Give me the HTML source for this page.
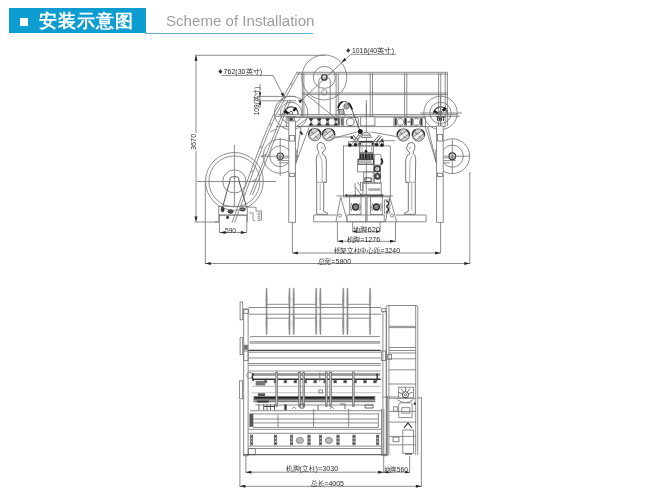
<!DOCTYPE html>
<html><head><meta charset="utf-8">
<style>
html,body{margin:0;padding:0;background:#fff;}
#en,#cn,svg{will-change:transform;}
body{width:656px;height:503px;position:relative;overflow:hidden;font-family:"Liberation Sans",sans-serif;}
#hdr{position:absolute;left:9px;top:8px;width:136.7px;height:25.4px;background:#0e9dd0;}
#sq{position:absolute;left:20px;top:18px;width:8px;height:8px;background:#fff;}
#cn{position:absolute;left:39px;top:7.5px;height:25px;line-height:25px;color:#fff;font-size:18.4px;font-weight:bold;letter-spacing:1.1px;white-space:nowrap;}
#en{position:absolute;left:165.5px;top:11px;color:#9d9d9d;font-size:15.1px;line-height:20px;white-space:nowrap;}
#ul{position:absolute;left:145px;top:32.6px;width:168px;height:1px;background:#62aecb;}
svg{position:absolute;left:0;top:0;}
</style></head><body>
<div id="hdr"></div><div id="sq"></div><div id="cn">安装示意图</div>
<div id="en">Scheme of Installation</div><div id="ul"></div>
<svg width="656" height="503" viewBox="0 0 656 503">
<g fill="none" stroke="#777" stroke-width="0.85">
<line x1="196" y1="56" x2="196" y2="133"/>
<line x1="196" y1="151" x2="196" y2="221"/>
<line x1="195" y1="55.3" x2="325" y2="55.3"/>
<line x1="194.5" y1="222" x2="219" y2="222"/>
<line x1="205.3" y1="183" x2="205.3" y2="264"/>
<line x1="205.3" y1="263.5" x2="469.8" y2="263.5"/>
<line x1="469.8" y1="172" x2="469.8" y2="264"/>
<line x1="292.4" y1="222" x2="292.4" y2="253"/>
<line x1="292.4" y1="253" x2="440.6" y2="253"/>
<line x1="440.6" y1="222" x2="440.6" y2="253"/>
<line x1="337.4" y1="222" x2="337.4" y2="241.3"/>
<line x1="337.4" y1="241.3" x2="395.5" y2="241.3"/>
<line x1="395.5" y1="222" x2="395.5" y2="241.3"/>
<line x1="219.4" y1="215" x2="219.4" y2="232.5"/>
<line x1="246.8" y1="215" x2="246.8" y2="232.5"/>
<line x1="219.4" y1="232.5" x2="246.8" y2="232.5"/>
<path d="M352.7,222 V232 H380.1 V222"/>
<path d="M352.70,231.50 L356.70,230.30 L356.70,232.70Z" fill="#222" stroke="none"/>
<path d="M380.10,231.50 L376.10,232.70 L376.10,230.30Z" fill="#222" stroke="none"/>
<path d="M221.4,75.4 H273 L284.5,98"/>
<path d="M395.8,54.3 H350.8 L302.3,99.4"/>
<line x1="260" y1="84" x2="260" y2="108"/>
<line x1="258" y1="96.4" x2="296" y2="96.4"/>
<line x1="258" y1="100.8" x2="296" y2="100.8"/>
<path d="M196.00,55.30 L197.50,60.80 L194.50,60.80Z" fill="#222" stroke="none"/>
<path d="M196.00,222.00 L194.50,216.50 L197.50,216.50Z" fill="#222" stroke="none"/>
<path d="M205.30,263.50 L210.80,262.00 L210.80,265.00Z" fill="#222" stroke="none"/>
<path d="M469.80,263.50 L464.30,265.00 L464.30,262.00Z" fill="#222" stroke="none"/>
<path d="M292.40,253.00 L297.90,251.50 L297.90,254.50Z" fill="#222" stroke="none"/>
<path d="M440.60,253.00 L435.10,254.50 L435.10,251.50Z" fill="#222" stroke="none"/>
<path d="M337.40,241.30 L342.90,239.80 L342.90,242.80Z" fill="#222" stroke="none"/>
<path d="M395.50,241.30 L390.00,242.80 L390.00,239.80Z" fill="#222" stroke="none"/>
<path d="M220.00,232.50 L225.50,231.00 L225.50,234.00Z" fill="#222" stroke="none"/>
<path d="M246.30,232.50 L240.80,234.00 L240.80,231.00Z" fill="#222" stroke="none"/>
<path d="M284.50,98.00 L280.70,93.75 L283.38,92.41Z" fill="#222" stroke="none"/>
<path d="M303.40,98.40 L300.22,103.13 L298.26,100.86Z" fill="#222" stroke="none"/>
<path d="M341.30,62.70 L344.48,57.97 L346.44,60.24Z" fill="#222" stroke="none"/>
<path d="M260.00,96.40 L258.80,92.40 L261.20,92.40Z" fill="#222" stroke="none"/>
<path d="M260.00,100.80 L261.20,104.80 L258.80,104.80Z" fill="#222" stroke="none"/>
<circle cx="234.4" cy="181.4" r="28.9"/>
<circle cx="234.4" cy="181.4" r="25.5"/>
<circle cx="234.4" cy="181.4" r="11.6"/>
<line x1="234.4" y1="145" x2="234.4" y2="206"/>
<line x1="197" y1="181.5" x2="276" y2="181.5"/>
<path d="M229.8,181 L222.8,206.5 M239,181 L246.4,206.5 M229.8,181 L230.2,178.5 Q230.5,176.8 232.5,176.8 H236.5 Q238.6,176.8 238.8,178.5 L239,181" stroke-width="1.0" stroke="#555"/>
<rect x="218.8" y="206.3" width="28.5" height="8.8"/>
<line x1="218.8" y1="215.1" x2="218.8" y2="222"/>
<line x1="247.3" y1="215.1" x2="247.3" y2="222"/>
<line x1="215" y1="222" x2="219" y2="222"/>
<path d="M248.1,207.2 H256 M256,207.2 V211 H261.5 V220.2 H257 M253,212 V219.5 Q253,221 255,221 M249,213 H252" stroke-width="0.8"/>
<circle cx="259" cy="214" r="1.2" stroke-width="0.7"/>
<circle cx="259" cy="217.5" r="1.2" stroke-width="0.7"/>
<ellipse cx="222.6" cy="209.5" rx="1.6" ry="2.4" fill="#333" stroke="#333" stroke-width="0.5"/>
<ellipse cx="230.5" cy="211.6" rx="2.6" ry="1.6" fill="#555" stroke="#222" stroke-width="0.9"/>
<ellipse cx="242.7" cy="209.4" rx="2.6" ry="1.6" fill="#777" stroke="#222" stroke-width="0.9"/>
<ellipse cx="227.6" cy="217.4" rx="1.4" ry="1.6" fill="#333" stroke="none"/>
<line x1="218.8" y1="215.1" x2="247.3" y2="215.1"/>
<path d="M297,72.3 L273.3,115 L264.6,135 L254.8,160.5 L232,222.7"/>
<path d="M299.6,72.3 L275.90000000000003,115 L267.20000000000005,135 L257.40000000000003,160.5 L234.6,222.7"/>
<line x1="288" y1="100" x2="250" y2="195"/>
<line x1="290.5" y1="100" x2="252.5" y2="195"/>
<line x1="289.9510538641686" y1="85" x2="292.55105386416864" y2="83.5"/>
<line x1="281.6255269320843" y1="100" x2="284.22552693208434" y2="98.5"/>
<line x1="268.95000000000005" y1="125" x2="271.55000000000007" y2="123.5"/>
<line x1="259.60392156862747" y1="148" x2="262.2039215686275" y2="146.5"/>
<line x1="250.58456591639873" y1="172" x2="253.18456591639872" y2="170.5"/>
<line x1="242.15369774919614" y1="195" x2="244.75369774919614" y2="193.5"/>
<line x1="270.27272727272725" y1="132" x2="276.27272727272725" y2="129"/>
<line x1="260.5" y1="157" x2="266.5" y2="154"/>
<line x1="250.72727272727275" y1="182" x2="256.72727272727275" y2="179"/>
<circle cx="280.2" cy="156.2" r="17"/>
<circle cx="280.2" cy="156.2" r="10.5"/>
<circle cx="280.2" cy="156.2" r="3.2" stroke-width="1.2" stroke="#333"/>
<circle cx="280.2" cy="156.2" r="1.3" stroke-width="0.6"/>
<line x1="261" y1="156.2" x2="299" y2="156.2"/>
<line x1="280.2" y1="138" x2="280.2" y2="176"/>
<path d="M277.4,157.9 H289 M277.4,160.5 H289 M279,162.8 H289" stroke-width="0.8"/>
<circle cx="291.1" cy="112.9" r="16.7"/>
<circle cx="291.1" cy="112.9" r="10.7"/>
<path d="M284.1,113.9 A7,7 0 1 1 298.1,113.9" stroke-width="1.4" stroke="#555"/>
<path d="M284.6,111.10000000000001 L288.6,113.5" stroke-width="2.4" stroke="#111"/>
<path d="M293.3,110.9 L296.3,107.7" stroke-width="2.4" stroke="#111"/>
<circle cx="291.1" cy="112.9" r="1.6" stroke-width="0.8" stroke="#333"/>
<path d="M286.6,116.9 h9 M288.1,116.9 v4 M294.1,116.9 v4" stroke-width="0.9" stroke="#333"/>
<rect x="289.6" y="117.4" width="3" height="3.5" stroke-width="0.3" fill="#333"/>
<circle cx="324.3" cy="77.4" r="22.5"/>
<circle cx="324.3" cy="77.4" r="11"/>
<circle cx="324.3" cy="77.4" r="2.7" stroke-width="1.3" stroke="#333"/>
<path d="M318.9,115 V80 Q318.9,77.9 321,77.9 H328.1 Q330.2,77.9 330.2,80 V115"/>
<circle cx="324.3" cy="92.4" r="2.7"/>
<line x1="296.5" y1="72.3" x2="447.4" y2="72.3"/>
<line x1="297" y1="74.1" x2="447.4" y2="74.1"/>
<line x1="302" y1="93" x2="447.4" y2="93"/>
<line x1="302" y1="94.6" x2="447.4" y2="94.6"/>
<line x1="302.3" y1="73" x2="302.3" y2="117"/>
<line x1="303.9" y1="73" x2="303.9" y2="117"/>
<line x1="336.1" y1="73" x2="336.1" y2="117"/>
<line x1="338.3" y1="73" x2="338.3" y2="117"/>
<line x1="370.2" y1="73" x2="370.2" y2="117"/>
<line x1="372.5" y1="73" x2="372.5" y2="117"/>
<line x1="404.6" y1="73" x2="404.6" y2="117"/>
<line x1="406.8" y1="73" x2="406.8" y2="117"/>
<line x1="438.6" y1="73" x2="438.6" y2="126"/>
<line x1="440.8" y1="73" x2="440.8" y2="126"/>
<line x1="445.2" y1="72.5" x2="445.2" y2="126"/>
<line x1="447.4" y1="72.5" x2="447.4" y2="126"/>
<line x1="366.4" y1="104" x2="366.4" y2="117.6"/>
<line x1="276" y1="116.3" x2="460" y2="116.3"/>
<line x1="278" y1="114.6" x2="458" y2="114.6"/>
<rect x="286.2" y="117.6" width="72" height="8.6"/>
<rect x="393.9" y="117.6" width="31.5" height="8.6"/>
<rect x="360.7" y="116.8" width="14.2" height="9"/>
<line x1="374.9" y1="117.6" x2="393.9" y2="117.6" stroke="#aaa"/>
<line x1="276" y1="126.6" x2="446" y2="126.6"/>
<line x1="297" y1="126" x2="307" y2="118.5"/>
<line x1="306" y1="94.3" x2="334.9" y2="117.6"/>
<line x1="343.6" y1="117.6" x2="343.6" y2="126.2"/>
<path d="M313.5,118.6 h3 l1.7,1.7 v3.2 l-1.7,1.7 h-3 l-1.7,-1.7 v-3.2z" stroke-width="0.7" stroke="#555"/>
<path d="M321.9,118.6 h3 l1.7,1.7 v3.2 l-1.7,1.7 h-3 l-1.7,-1.7 v-3.2z" stroke-width="0.7" stroke="#555"/>
<path d="M330.3,118.6 h3 l1.7,1.7 v3.2 l-1.7,1.7 h-3 l-1.7,-1.7 v-3.2z" stroke-width="0.7" stroke="#555"/>
<path d="M308.7,118.2 h4.4 l-2.2,3.2z M308.7,125.6 h4.4 l-2.2,-3.2z" stroke-width="0.3" fill="#2a2a2a" stroke="#2a2a2a"/>
<path d="M317.0,118.2 h4.4 l-2.2,3.2z M317.0,125.6 h4.4 l-2.2,-3.2z" stroke-width="0.3" fill="#2a2a2a" stroke="#2a2a2a"/>
<path d="M325.40000000000003,118.2 h4.4 l-2.2,3.2z M325.40000000000003,125.6 h4.4 l-2.2,-3.2z" stroke-width="0.3" fill="#2a2a2a" stroke="#2a2a2a"/>
<path d="M333.8,118.2 h4.4 l-2.2,3.2z M333.8,125.6 h4.4 l-2.2,-3.2z" stroke-width="0.3" fill="#2a2a2a" stroke="#2a2a2a"/>
<rect x="338" y="118.5" width="1.6" height="6.5" fill="#333"/>
<rect x="341.2" y="118.5" width="1.6" height="6.5" fill="#333"/>
<path d="M398.9,118.6 h3 l1.7,1.7 v3.2 l-1.7,1.7 h-3 l-1.7,-1.7 v-3.2z" stroke-width="0.7" stroke="#555"/>
<path d="M414.9,118.6 h3 l1.7,1.7 v3.2 l-1.7,1.7 h-3 l-1.7,-1.7 v-3.2z" stroke-width="0.7" stroke="#555"/>
<rect x="394.90000000000003" y="118.4" width="1.8" height="6.8" fill="#2a2a2a"/>
<rect x="404.6" y="118.4" width="1.8" height="6.8" fill="#2a2a2a"/>
<rect x="410.90000000000003" y="118.4" width="1.8" height="6.8" fill="#2a2a2a"/>
<rect x="420.40000000000003" y="118.4" width="1.8" height="6.8" fill="#2a2a2a"/>
<line x1="407.4" y1="121.9" x2="410.3" y2="121.9" stroke-width="1.0" stroke="#444"/>
<path d="M348.6,118.2 h3.4 l1.9,1.9 v3.6 l-1.9,1.9 h-3.4 l-1.9,-1.9 v-3.6z" stroke-width="0.8" stroke="#555"/>
<path d="M337.9,111 Q338.5,101.5 344.3,101.3 Q349.5,101.5 351.9,109.5 L360.2,131.6" stroke-width="1.0" stroke="#555"/>
<path d="M338.2,108 Q339,103 342.5,101.8" stroke-width="1.8" stroke="#222"/>
<path d="M348.5,103 Q351,105.5 352.2,109.5" stroke-width="1.8" stroke="#222"/>
<circle cx="346.5" cy="106.3" r="2.7" stroke-width="0.8" stroke="#555" fill="#aaa"/>
<rect x="339.2" y="109.5" width="4.6" height="4.8" stroke-width="0.7" fill="#bbb" stroke="#555"/>
<line x1="343" y1="108" x2="345" y2="116"/>
<circle cx="360.2" cy="131.6" r="2" stroke="#222" fill="#222"/>
<circle cx="440.5" cy="112.9" r="16.7"/>
<circle cx="440.5" cy="112.9" r="10.7"/>
<path d="M433.5,113.9 A7,7 0 1 1 447.5,113.9" stroke-width="1.4" stroke="#555"/>
<path d="M434.0,111.10000000000001 L438.0,113.5" stroke-width="2.4" stroke="#111"/>
<path d="M442.7,110.9 L445.7,107.7" stroke-width="2.4" stroke="#111"/>
<circle cx="440.5" cy="112.9" r="1.6" stroke-width="0.8" stroke="#333"/>
<path d="M436.0,116.9 h9 M437.5,116.9 v4 M443.5,116.9 v4" stroke-width="0.9" stroke="#333"/>
<rect x="439.0" y="117.4" width="3" height="3.5" stroke-width="0.3" fill="#333"/>
<line x1="440.5" y1="95" x2="440.5" y2="131"/>
<line x1="420" y1="113" x2="462" y2="113"/>
<circle cx="452.3" cy="156.2" r="17.4"/>
<circle cx="452.3" cy="156.2" r="11"/>
<circle cx="452.3" cy="156.2" r="3.3" stroke-width="1.2" stroke="#333"/>
<circle cx="452.3" cy="156.2" r="1.3" stroke-width="0.6"/>
<line x1="436" y1="156.2" x2="469.8" y2="156.2"/>
<line x1="452.3" y1="139.5" x2="452.3" y2="173.7"/>
<path d="M443,157.9 H455.6 M443,160.5 H455.6 M443,162.8 H450" stroke-width="0.8"/>
<line x1="425" y1="126.2" x2="436.5" y2="162.8"/>
<line x1="427.5" y1="126.2" x2="436.5" y2="162.8"/>
<line x1="300.9" y1="127.5" x2="295.5" y2="163.9"/>
<line x1="309" y1="127.5" x2="295.5" y2="163.9"/>
<path d="M300.3,131.5 l2.2,3.2" stroke-width="2" stroke="#333"/>
<circle cx="314.75" cy="134.6" r="6.2" stroke-width="0.9" stroke="#666" fill="#d0d0d0"/>
<path d="M309.48,136.46 L318.47,130.26 L320.02,133.35999999999999 L312.27,139.56Z" fill="#f2f2f2"/>
<path d="M311.03,131.5 L314.13,133.98 M315.37,135.84 L317.85,138.32" stroke-width="1.0" stroke="#777"/>
<path d="M308.736,135.22 A6.2,6.2 0 0 1 311.96,129.144" stroke-width="1.4" stroke="#333"/>
<path d="M317.54,129.144 A6.2,6.2 0 0 1 320.764,135.22" stroke-width="1.4" stroke="#333"/>
<circle cx="328.6" cy="134.6" r="6.2" stroke-width="0.9" stroke="#666" fill="#d0d0d0"/>
<path d="M323.33000000000004,136.46 L332.32000000000005,130.26 L333.87,133.35999999999999 L326.12,139.56Z" fill="#f2f2f2"/>
<path d="M324.88,131.5 L327.98,133.98 M329.22,135.84 L331.70000000000005,138.32" stroke-width="1.0" stroke="#777"/>
<path d="M322.586,135.22 A6.2,6.2 0 0 1 325.81,129.144" stroke-width="1.4" stroke="#333"/>
<path d="M331.39000000000004,129.144 A6.2,6.2 0 0 1 334.61400000000003,135.22" stroke-width="1.4" stroke="#333"/>
<circle cx="403.3" cy="135" r="6.2" stroke-width="0.9" stroke="#666" fill="#d0d0d0"/>
<path d="M398.03000000000003,136.86 L407.02000000000004,130.66 L408.57,133.76 L400.82,139.96Z" fill="#f2f2f2"/>
<path d="M399.58,131.9 L402.68,134.38 M403.92,136.24 L406.40000000000003,138.72" stroke-width="1.0" stroke="#777"/>
<path d="M397.286,135.62 A6.2,6.2 0 0 1 400.51,129.544" stroke-width="1.4" stroke="#333"/>
<path d="M406.09000000000003,129.544 A6.2,6.2 0 0 1 409.314,135.62" stroke-width="1.4" stroke="#333"/>
<circle cx="418.4" cy="135" r="6.2" stroke-width="0.9" stroke="#666" fill="#d0d0d0"/>
<path d="M413.13,136.86 L422.12,130.66 L423.66999999999996,133.76 L415.91999999999996,139.96Z" fill="#f2f2f2"/>
<path d="M414.67999999999995,131.9 L417.78,134.38 M419.02,136.24 L421.5,138.72" stroke-width="1.0" stroke="#777"/>
<path d="M412.38599999999997,135.62 A6.2,6.2 0 0 1 415.60999999999996,129.544" stroke-width="1.4" stroke="#333"/>
<path d="M421.19,129.544 A6.2,6.2 0 0 1 424.414,135.62" stroke-width="1.4" stroke="#333"/>
<path d="M317.2,148.3 Q316.5,142.8 320.9,142.5 Q324.7,142.70000000000002 325.0,146.8 L325.7,148.8 L324.9,149.3 Q324.7,151.3 322.7,151.8 L322.2,153.8 Q325.7,155.3 326.3,159.3 L326.3,182.3 L323.7,182.3 L323.7,211.3 L327.7,213.3 L327.7,214.3 L316.7,214.3 L316.7,182.3 L316.3,159.3 Q316.5,154.8 318.7,153.8 L318.7,151.3 Q317.2,150.3 317.2,148.3 Z" stroke-width="0.8" stroke="#555"/>
<path d="M319.7,155.3 Q322.7,159.3 322.2,167.3 L322.2,182.3 M316.7,182.3 H326.3 M320.2,183.3 L320.2,210.3" stroke-width="0.6" stroke="#777"/>
<circle cx="322.2" cy="147.8" r="0.7" stroke-width="0.5"/>
<g transform="translate(823,0) scale(-1,1)">
<path d="M408.2,148.3 Q407.5,142.8 411.9,142.5 Q415.7,142.70000000000002 416.0,146.8 L416.7,148.8 L415.9,149.3 Q415.7,151.3 413.7,151.8 L413.2,153.8 Q416.7,155.3 417.3,159.3 L417.3,182.3 L414.7,182.3 L414.7,211.3 L418.7,213.3 L418.7,214.3 L407.7,214.3 L407.7,182.3 L407.3,159.3 Q407.5,154.8 409.7,153.8 L409.7,151.3 Q408.2,150.3 408.2,148.3 Z" stroke-width="0.8" stroke="#555"/>
<path d="M410.7,155.3 Q413.7,159.3 413.2,167.3 L413.2,182.3 M407.7,182.3 H417.3 M411.2,183.3 L411.2,210.3" stroke-width="0.6" stroke="#777"/>
<circle cx="413.2" cy="147.8" r="0.7" stroke-width="0.5"/>
</g>
<rect x="288.8" y="121" width="6.6" height="101.3" fill="#fff"/>
<rect x="289.6" y="135.5" width="5" height="5.5"/>
<rect x="289.6" y="173.2" width="5" height="3.3"/>
<rect x="436.6" y="126" width="6.6" height="96.3" fill="#fff"/>
<rect x="437.4" y="134.4" width="5" height="6.6"/>
<rect x="437.4" y="173.2" width="5" height="3.3"/>
<line x1="313.7" y1="215" x2="336.6" y2="215"/>
<line x1="396" y1="215" x2="426.1" y2="215"/>
<line x1="313.7" y1="215" x2="313.7" y2="221.8"/>
<line x1="426.1" y1="215" x2="426.1" y2="221.8"/>
<rect x="343.4" y="145.9" width="46.9" height="51"/>
<line x1="366.3" y1="100" x2="366.3" y2="222"/>
<path d="M361.4,137.5 L363.2,133 Q366.3,131.4 369.4,133 L371.2,137.5 Z" stroke-width="0.9" fill="#e6e6e6"/>
<line x1="362.5" y1="135.2" x2="370.1" y2="135.2"/>
<rect x="348.4" y="141.7" width="35.2" height="4.2" stroke-width="0.9"/>
<line x1="359.3" y1="141.6" x2="373.5" y2="141.6" stroke-width="1.4" stroke="#333"/>
<circle cx="360.3" cy="131.7" r="2.1" stroke-width="0.5" stroke="#1a1a1a" fill="#1a1a1a"/>
<circle cx="350" cy="145" r="1.5" stroke-width="0.5" stroke="#1a1a1a" fill="#1a1a1a"/>
<circle cx="355.5" cy="144.6" r="1.5" stroke-width="0.5" stroke="#1a1a1a" fill="#1a1a1a"/>
<circle cx="359.7" cy="143.8" r="1.3" stroke-width="0.5" stroke="#1a1a1a" fill="#1a1a1a"/>
<circle cx="373.1" cy="143.8" r="1.3" stroke-width="0.5" stroke="#1a1a1a" fill="#1a1a1a"/>
<circle cx="376.5" cy="144.6" r="1.5" stroke-width="0.5" stroke="#1a1a1a" fill="#1a1a1a"/>
<circle cx="381.9" cy="145" r="1.5" stroke-width="0.5" stroke="#1a1a1a" fill="#1a1a1a"/>
<circle cx="351.8" cy="137.5" r="1.2" stroke-width="0.5" stroke="#1a1a1a" fill="#1a1a1a"/>
<circle cx="382.2" cy="140.7" r="1.2" stroke-width="0.5" stroke="#1a1a1a" fill="#1a1a1a"/>
<path d="M350.9,136.3 L355.9,141.6 M353,135 L358.5,141" stroke-width="0.9" stroke="#444"/>
<path d="M352.5,143.5 L360,132.5 M355,144 L361.8,134" stroke-width="0.8" stroke="#555"/>
<line x1="354.375" y1="140.75" x2="356.875" y2="141.55"/>
<line x1="356.25" y1="138.0" x2="358.75" y2="138.8"/>
<line x1="358.125" y1="135.25" x2="360.625" y2="136.05"/>
<path d="M381.5,136.3 L376.5,141.6 M379.5,135 L374,141" stroke-width="0.9" stroke="#444"/>
<path d="M376,144 L381,136.6 M378.5,144.5 L383,138" stroke-width="0.8" stroke="#555"/>
<line x1="382" y1="140.7" x2="395" y2="140.7"/>
<line x1="335" y1="137" x2="351.8" y2="137"/>
<line x1="332.1" y1="138.6" x2="357.3" y2="131.9"/>
<line x1="399.2" y1="137" x2="370.6" y2="131.9"/>
<rect x="359.3" y="142.5" width="14.2" height="10.1"/>
<line x1="360.1" y1="142.5" x2="360.1" y2="152.6" stroke-width="0.6" stroke="#888"/>
<line x1="362.2" y1="142.5" x2="362.2" y2="152.6" stroke-width="0.6" stroke="#888"/>
<line x1="371.4" y1="142.5" x2="371.4" y2="152.6" stroke-width="0.6" stroke="#888"/>
<line x1="373.1" y1="142.5" x2="373.1" y2="152.6" stroke-width="0.6" stroke="#888"/>
<circle cx="366" cy="151.3" r="1.2" stroke-width="0.3" stroke="#222" fill="#222"/>
<rect x="359.3" y="153.4" width="14.2" height="5.9" stroke-width="0.5" fill="#2a2a2a"/>
<line x1="361.8" y1="153.8" x2="361.8" y2="159" stroke-width="0.6" stroke="#ccc"/>
<line x1="364.5" y1="153.8" x2="364.5" y2="159" stroke-width="0.6" stroke="#ccc"/>
<line x1="368" y1="153.8" x2="368" y2="159" stroke-width="0.6" stroke="#ccc"/>
<line x1="370.8" y1="153.8" x2="370.8" y2="159" stroke-width="0.6" stroke="#ccc"/>
<rect x="358" y="159.3" width="15.5" height="5" stroke-width="1.0" stroke="#333"/>
<rect x="359.5" y="160.5" width="12" height="2.5" stroke-width="0.3" fill="#bbb"/>
<path d="M374.4,154.3 H379 Q381.1,154.3 381.1,156.5 V165.2 H374.4 Z"/>
<path d="M381.2,158.5 q2.3,3 0,6" stroke-width="1.8" stroke="#222"/>
<rect x="357.6" y="164.3" width="15.9" height="7.6"/>
<rect x="374.4" y="165.2" width="6" height="17.8"/>
<circle cx="377.3" cy="169" r="2.8" stroke-width="1.4" stroke="#333"/>
<circle cx="377.3" cy="169" r="1" stroke-width="0.6"/>
<circle cx="377.6" cy="176.3" r="2.8" stroke-width="1.2" stroke="#333" fill="#666"/>
<circle cx="377.6" cy="176.3" r="1.1" stroke-width="0.3" fill="#fff"/>
<rect x="363.7" y="171.9" width="9.5" height="11.1"/>
<rect x="364.9" y="177.9" width="6.3" height="3.6" stroke-width="1.0" stroke="#444"/>
<rect x="362.9" y="183" width="18.3" height="12"/>
<rect x="368.8" y="188.6" width="11.2" height="2" stroke-width="0.3" fill="#aaa"/>
<path d="M355.3,187 L360.9,194.2 M355,183 L355.3,194 M357,182 L360.5,186"/>
<rect x="360.5" y="182.3" width="2.4" height="7.9"/>
<line x1="345" y1="195.5" x2="382.4" y2="195.5" stroke-width="1.3" stroke="#333"/>
<circle cx="346.5" cy="195.5" r="1" stroke-width="0.3" stroke="#222" fill="#222"/>
<circle cx="355.3" cy="195.5" r="1" stroke-width="0.3" stroke="#222" fill="#222"/>
<circle cx="360.9" cy="195.5" r="1" stroke-width="0.3" stroke="#222" fill="#222"/>
<circle cx="382.4" cy="195.5" r="1" stroke-width="0.3" stroke="#222" fill="#222"/>
<line x1="336.4" y1="195.9" x2="393" y2="195.9"/>
<path d="M335.9,222 L340.7,196.9 L347.6,222"/>
<circle cx="340.1" cy="215.6" r="1.5"/>
<rect x="349.7" y="196.4" width="11.3" height="18.1"/>
<rect x="370.6" y="196.4" width="11.7" height="18.1"/>
<circle cx="355.6" cy="207" r="3" stroke-width="1.4" stroke="#333" fill="#888"/>
<circle cx="376.4" cy="207" r="3" stroke-width="1.4" stroke="#333" fill="#888"/>
<path d="M351.5,203 q-1.5,4 0,8 M359.5,203 q1.5,4 0,8 M372.5,203 q-1.5,4 0,8 M380.5,203 q1.5,4 0,8"/>
<rect x="365.2" y="196" width="2.2" height="26" stroke-width="0.3" fill="#aaa"/>
<path d="M385.5,222 L389.8,196.9 L396.7,222"/>
<circle cx="391.9" cy="215.6" r="1.5"/>
<rect x="384.4" y="200" width="5.4" height="13"/>
<path d="M386,201 a2.5,2.5 0 0 1 0,5 M386,207 a2.5,2.5 0 0 1 0,5" stroke-width="1.2" stroke="#333"/>
<rect x="347" y="215" width="37.2" height="6.8"/>
<line x1="313.7" y1="221.8" x2="426.1" y2="221.8"/>
</g>
<g font-family="'Liberation Sans', sans-serif">
<path d="M220.4,69.1 L222.4,71.6 L220.4,74.1 L218.4,71.6Z" fill="#333" stroke="none"/>
<text x="223.6" y="74" font-size="6.9" textLength="38.6" lengthAdjust="spacingAndGlyphs" fill="#2a2a2a">762(30英寸)</text>
<path d="M348.2,48.2 L350.15,50.5 L348.2,52.8 L346.25,50.5Z" fill="#333" stroke="none"/>
<text x="351.9" y="52.7" font-size="6.6" textLength="42.2" lengthAdjust="spacingAndGlyphs" fill="#2a2a2a">1016(40英寸)</text>
<text transform="translate(258.6,115.3) rotate(-90)" x="0" y="0" font-size="6.9" textLength="28.6" lengthAdjust="spacingAndGlyphs" fill="#2a2a2a">109(英寸)</text>
<text transform="translate(196.4,150.1) rotate(-90)" x="0" y="0" font-size="7.6" textLength="16.4" lengthAdjust="spacingAndGlyphs" fill="#2a2a2a">3670</text>
<text x="225.1" y="232.6" font-size="7.4" textLength="10.8" lengthAdjust="spacingAndGlyphs" fill="#2a2a2a">590</text>
<text x="352.7" y="232" font-size="7.2" textLength="27.4" lengthAdjust="spacingAndGlyphs" fill="#2a2a2a">地脚620</text>
<text x="346.6" y="241.9" font-size="7.2" textLength="33.5" lengthAdjust="spacingAndGlyphs" fill="#2a2a2a">机脚=1276</text>
<text x="333.6" y="253.4" font-size="7.2" textLength="66.4" lengthAdjust="spacingAndGlyphs" fill="#2a2a2a">框架立柱中心距=3240</text>
<text x="317.6" y="264" font-size="7.2" textLength="33.6" lengthAdjust="spacingAndGlyphs" fill="#2a2a2a">总宽=5800</text>
</g>
<g fill="none" stroke="#777" stroke-width="0.85">
<path d="M266.20000000000005,288.2 Q265.40000000000003,299.775 266.20000000000005,311.35 Q265.40000000000003,322.925 266.20000000000005,334.5 L267.0,334.5 Q267.6,322.925 267.0,311.35 Q267.6,299.775 267.0,288.2 Z" stroke-width="0.4" fill="#999" stroke="#666"/>
<path d="M289.1,288.2 Q288.3,299.775 289.1,311.35 Q288.3,322.925 289.1,334.5 L289.9,334.5 Q290.5,322.925 289.9,311.35 Q290.5,299.775 289.9,288.2 Z" stroke-width="0.4" fill="#999" stroke="#666"/>
<path d="M293.3,288.2 Q292.5,299.775 293.3,311.35 Q292.5,322.925 293.3,334.5 L294.09999999999997,334.5 Q294.7,322.925 294.09999999999997,311.35 Q294.7,299.775 294.09999999999997,288.2 Z" stroke-width="0.4" fill="#999" stroke="#666"/>
<path d="M315.8,288.2 Q315.0,299.775 315.8,311.35 Q315.0,322.925 315.8,334.5 L316.59999999999997,334.5 Q317.2,322.925 316.59999999999997,311.35 Q317.2,299.775 316.59999999999997,288.2 Z" stroke-width="0.4" fill="#999" stroke="#666"/>
<path d="M320.0,288.2 Q319.2,299.775 320.0,311.35 Q319.2,322.925 320.0,334.5 L320.79999999999995,334.5 Q321.4,322.925 320.79999999999995,311.35 Q321.4,299.775 320.79999999999995,288.2 Z" stroke-width="0.4" fill="#999" stroke="#666"/>
<path d="M342.90000000000003,288.2 Q342.1,299.775 342.90000000000003,311.35 Q342.1,322.925 342.90000000000003,334.5 L343.7,334.5 Q344.3,322.925 343.7,311.35 Q344.3,299.775 343.7,288.2 Z" stroke-width="0.4" fill="#999" stroke="#666"/>
<path d="M347.1,288.2 Q346.3,299.775 347.1,311.35 Q346.3,322.925 347.1,334.5 L347.9,334.5 Q348.5,322.925 347.9,311.35 Q348.5,299.775 347.9,288.2 Z" stroke-width="0.4" fill="#999" stroke="#666"/>
<path d="M369.70000000000005,288.2 Q368.90000000000003,299.775 369.70000000000005,311.35 Q368.90000000000003,322.925 369.70000000000005,334.5 L370.5,334.5 Q371.1,322.925 370.5,311.35 Q371.1,299.775 370.5,288.2 Z" stroke-width="0.4" fill="#999" stroke="#666"/>
<line x1="248.7" y1="307.5" x2="381.1" y2="307.5"/>
<line x1="248.7" y1="314.2" x2="381.1" y2="314.2"/>
<line x1="266.6" y1="304.3" x2="289.5" y2="304.3"/>
<line x1="266.6" y1="318.2" x2="289.5" y2="318.2"/>
<line x1="293.7" y1="304.3" x2="316.2" y2="304.3"/>
<line x1="293.7" y1="318.2" x2="316.2" y2="318.2"/>
<line x1="320.4" y1="304.3" x2="343.3" y2="304.3"/>
<line x1="320.4" y1="318.2" x2="343.3" y2="318.2"/>
<line x1="347.5" y1="304.3" x2="370.1" y2="304.3"/>
<line x1="347.5" y1="318.2" x2="370.1" y2="318.2"/>
<rect x="240.1" y="302" width="2.6" height="17.8"/>
<rect x="240.1" y="337.7" width="2.6" height="17"/>
<rect x="239.6" y="380.8" width="3" height="18"/>
<rect x="243.7" y="309.3" width="4.4" height="146.5"/>
<rect x="243.7" y="309" width="5" height="4.3"/>
<rect x="243.9" y="345" width="4" height="4.8" stroke-width="0.4" fill="#777"/>
<rect x="243.7" y="351" width="4.4" height="9.5"/>
<circle cx="249.7" cy="375.4" r="3"/>
<rect x="381.7" y="308.7" width="4.2" height="3"/>
<rect x="382.9" y="311.7" width="3.6" height="144"/>
<rect x="381.4" y="351" width="4.2" height="9.5"/>
<rect x="387.3" y="354.5" width="4.2" height="4.8"/>
<path d="M386.2,455 V307 Q386.2,305.5 388,305.5 H416 Q417.8,305.5 417.8,307 V455"/>
<line x1="388.9" y1="305.5" x2="388.9" y2="455"/>
<line x1="415.7" y1="305.5" x2="415.7" y2="455"/>
<line x1="388.9" y1="326.3" x2="415.7" y2="326.3"/>
<line x1="388.9" y1="327.6" x2="415.7" y2="327.6"/>
<line x1="388.9" y1="347.5" x2="415.7" y2="347.5"/>
<line x1="388.9" y1="350.5" x2="415.7" y2="350.5"/>
<line x1="388.9" y1="353" x2="416.2" y2="353"/>
<line x1="388.9" y1="358.8" x2="416.2" y2="358.8"/>
<line x1="388.9" y1="369.8" x2="416.2" y2="369.8"/>
<line x1="388.9" y1="384" x2="416.2" y2="384"/>
<line x1="388.9" y1="398.3" x2="416.2" y2="398.3"/>
<line x1="388.9" y1="411.4" x2="416.2" y2="411.4"/>
<line x1="388.9" y1="422.1" x2="416.2" y2="422.1"/>
<line x1="388.9" y1="436.4" x2="416.2" y2="436.4"/>
<line x1="388.9" y1="444.8" x2="416.2" y2="444.8"/>
<line x1="250" y1="336.6" x2="379.9" y2="336.6"/>
<rect x="250" y="341.2" width="129.9" height="2.2" stroke-width="0.4" fill="#bbb"/>
<line x1="248.5" y1="350.4" x2="380.8" y2="350.4" stroke-width="1.1" stroke="#444"/>
<line x1="248.5" y1="352.2" x2="380.8" y2="352.2"/>
<line x1="248.5" y1="358" x2="380.8" y2="358"/>
<line x1="248.5" y1="363.5" x2="380.8" y2="363.5"/>
<line x1="248.5" y1="365.3" x2="380.8" y2="365.3"/>
<line x1="248.5" y1="371" x2="380.8" y2="371" stroke="#888"/>
<rect x="252" y="373.4" width="128" height="2.2" stroke-width="0.4" fill="#999"/>
<line x1="252" y1="379.3" x2="380.8" y2="379.3" stroke-width="1.4" stroke="#333"/>
<rect x="264.2" y="380.6" width="2.6" height="2.2" fill="#222"/>
<rect x="274.15" y="380.6" width="2.6" height="2.2" fill="#222"/>
<rect x="284.09999999999997" y="380.6" width="2.6" height="2.2" fill="#222"/>
<rect x="294.05" y="380.6" width="2.6" height="2.2" fill="#222"/>
<rect x="304.0" y="380.6" width="2.6" height="2.2" fill="#222"/>
<rect x="313.95" y="380.6" width="2.6" height="2.2" fill="#222"/>
<rect x="323.9" y="380.6" width="2.6" height="2.2" fill="#222"/>
<rect x="333.84999999999997" y="380.6" width="2.6" height="2.2" fill="#222"/>
<rect x="343.8" y="380.6" width="2.6" height="2.2" fill="#222"/>
<rect x="353.75" y="380.6" width="2.6" height="2.2" fill="#222"/>
<rect x="363.7" y="380.6" width="2.6" height="2.2" fill="#222"/>
<rect x="373.65" y="380.6" width="2.6" height="2.2" fill="#222"/>
<rect x="255.9" y="381" width="9.1" height="4.3" stroke-width="0.4" fill="#777"/>
<line x1="252" y1="386.3" x2="380.8" y2="386.3" stroke="#aaa"/>
<line x1="252" y1="392.7" x2="380.8" y2="392.7" stroke="#bbb"/>
<rect x="258" y="393.3" width="7" height="2.7" stroke-width="0.3" fill="#555"/>
<rect x="254" y="396.5" width="120.8" height="2.7" fill="#222"/>
<rect x="254" y="399.2" width="120.8" height="2.6" fill="#666"/>
<line x1="254" y1="400.5" x2="374.8" y2="400.5" stroke-width="0.5" stroke="#ddd"/>
<path d="M258,400.4 h10 a1.1,1.1 0 0 1 0,2.2 h-10 a1.1,1.1 0 0 1 0,-2.2z" stroke-width="0.4" fill="#333"/>
<path d="M253.5,373.5 q-2.2,3.5 0,7.5" stroke-width="1.5" stroke="#333"/>
<path d="M376.6,373.6 q1.8,3.6 0,7.2" stroke-width="1.4" stroke="#333"/>
<rect x="275.8" y="372" width="1.6" height="34.6" stroke-width="0.7" fill="#ccc" stroke="#666"/>
<rect x="298.7" y="372" width="1.6" height="34.6" stroke-width="0.7" fill="#ccc" stroke="#666"/>
<rect x="302.9" y="372" width="1.6" height="34.6" stroke-width="0.7" fill="#ccc" stroke="#666"/>
<rect x="325.59999999999997" y="372" width="1.6" height="34.6" stroke-width="0.7" fill="#ccc" stroke="#666"/>
<rect x="329.8" y="372" width="1.6" height="34.6" stroke-width="0.7" fill="#ccc" stroke="#666"/>
<rect x="352.59999999999997" y="372" width="1.6" height="34.6" stroke-width="0.7" fill="#ccc" stroke="#666"/>
<line x1="319.8" y1="372.4" x2="319.8" y2="382"/>
<rect x="319" y="390" width="3.5" height="3"/>
<path d="M259,404 v6 M263.7,404 v6.2 M267,404 v6.2 M270.5,404 v6.2 M274.5,404 v6.2 M300,404 h4 v4 h-4z M318,405 v5 M340,404 h5 v5 M365,405 h8 v3 h-8z" stroke-width="0.9" stroke="#555"/>
<line x1="263.7" y1="406.5" x2="275" y2="406.5" stroke-width="1.0" stroke="#444"/>
<rect x="284.5" y="404.5" width="2" height="5.5" fill="#333"/>
<path d="M292,409 q2,-4 4,0 M330,409 q2,-4 4,0" stroke-width="0.8"/>
<line x1="255.4" y1="405" x2="373.8" y2="405"/>
<line x1="250" y1="410.7" x2="381.5" y2="410.7"/>
<rect x="249.6" y="413.8" width="3.5" height="13" stroke-width="0.4" fill="#555"/>
<line x1="253" y1="413.9" x2="378.4" y2="413.9" stroke="#777"/>
<line x1="253" y1="419" x2="378.4" y2="419" stroke="#777"/>
<line x1="253" y1="422.9" x2="378.4" y2="422.9" stroke="#777"/>
<line x1="253" y1="427.4" x2="378.4" y2="427.4" stroke="#777"/>
<line x1="278" y1="414.4" x2="278" y2="427"/>
<line x1="313.6" y1="409" x2="313.6" y2="427.4"/>
<line x1="348.7" y1="409" x2="348.7" y2="427.4"/>
<line x1="378.4" y1="413" x2="378.4" y2="427.4"/>
<line x1="248.5" y1="429.3" x2="381.5" y2="429.3"/>
<line x1="248.5" y1="433.3" x2="381.5" y2="433.3"/>
<line x1="250.6" y1="434.5" x2="250.6" y2="445.5" stroke="#666"/>
<line x1="252.4" y1="434.5" x2="252.4" y2="445.5" stroke="#666"/>
<rect x="250.4" y="435.7" width="2.2" height="1.6" fill="#333"/>
<rect x="250.4" y="439.2" width="2.2" height="1.6" fill="#333"/>
<rect x="250.4" y="442.7" width="2.2" height="1.6" fill="#333"/>
<line x1="274.5" y1="434.5" x2="274.5" y2="445.5" stroke="#666"/>
<line x1="276.29999999999995" y1="434.5" x2="276.29999999999995" y2="445.5" stroke="#666"/>
<rect x="274.29999999999995" y="435.7" width="2.2" height="1.6" fill="#333"/>
<rect x="274.29999999999995" y="439.2" width="2.2" height="1.6" fill="#333"/>
<rect x="274.29999999999995" y="442.7" width="2.2" height="1.6" fill="#333"/>
<line x1="290.6" y1="434.5" x2="290.6" y2="445.5" stroke="#666"/>
<line x1="292.4" y1="434.5" x2="292.4" y2="445.5" stroke="#666"/>
<rect x="290.4" y="435.7" width="2.2" height="1.6" fill="#333"/>
<rect x="290.4" y="439.2" width="2.2" height="1.6" fill="#333"/>
<rect x="290.4" y="442.7" width="2.2" height="1.6" fill="#333"/>
<line x1="308.1" y1="434.5" x2="308.1" y2="445.5" stroke="#666"/>
<line x1="309.9" y1="434.5" x2="309.9" y2="445.5" stroke="#666"/>
<rect x="307.9" y="435.7" width="2.2" height="1.6" fill="#333"/>
<rect x="307.9" y="439.2" width="2.2" height="1.6" fill="#333"/>
<rect x="307.9" y="442.7" width="2.2" height="1.6" fill="#333"/>
<line x1="319.6" y1="434.5" x2="319.6" y2="445.5" stroke="#666"/>
<line x1="321.4" y1="434.5" x2="321.4" y2="445.5" stroke="#666"/>
<rect x="319.4" y="435.7" width="2.2" height="1.6" fill="#333"/>
<rect x="319.4" y="439.2" width="2.2" height="1.6" fill="#333"/>
<rect x="319.4" y="442.7" width="2.2" height="1.6" fill="#333"/>
<line x1="337.1" y1="434.5" x2="337.1" y2="445.5" stroke="#666"/>
<line x1="338.9" y1="434.5" x2="338.9" y2="445.5" stroke="#666"/>
<rect x="336.9" y="435.7" width="2.2" height="1.6" fill="#333"/>
<rect x="336.9" y="439.2" width="2.2" height="1.6" fill="#333"/>
<rect x="336.9" y="442.7" width="2.2" height="1.6" fill="#333"/>
<line x1="353.1" y1="434.5" x2="353.1" y2="445.5" stroke="#666"/>
<line x1="354.9" y1="434.5" x2="354.9" y2="445.5" stroke="#666"/>
<rect x="352.9" y="435.7" width="2.2" height="1.6" fill="#333"/>
<rect x="352.9" y="439.2" width="2.2" height="1.6" fill="#333"/>
<rect x="352.9" y="442.7" width="2.2" height="1.6" fill="#333"/>
<line x1="376.70000000000005" y1="434.5" x2="376.70000000000005" y2="445.5" stroke="#666"/>
<line x1="378.5" y1="434.5" x2="378.5" y2="445.5" stroke="#666"/>
<rect x="376.5" y="435.7" width="2.2" height="1.6" fill="#333"/>
<rect x="376.5" y="439.2" width="2.2" height="1.6" fill="#333"/>
<rect x="376.5" y="442.7" width="2.2" height="1.6" fill="#333"/>
<ellipse cx="299.9" cy="440.4" rx="3.6" ry="3" fill="#bbb" stroke="#777"/>
<ellipse cx="328.9" cy="440.4" rx="3.6" ry="3" fill="#bbb" stroke="#777"/>
<line x1="248.5" y1="446.1" x2="381.5" y2="446.1"/>
<line x1="248.5" y1="448.5" x2="381.5" y2="448.5"/>
<rect x="248.3" y="448.7" width="7" height="6"/>
<line x1="243.7" y1="454.7" x2="386.2" y2="454.7" stroke-width="1.0" stroke="#444"/>
<line x1="381.5" y1="409" x2="381.5" y2="456"/>
<line x1="383.8" y1="409" x2="383.8" y2="456"/>
<line x1="387.6" y1="396" x2="387.6" y2="456"/>
<rect x="398.7" y="387.2" width="14.7" height="10.7"/>
<line x1="402.1110758272493" y1="393.6029294983602" x2="398.3523053441057" y2="392.2348489250575" stroke-width="0.8" stroke="#555"/>
<line x1="403.3924824727713" y1="391.9329678449885" x2="401.0981767273671" y2="388.6563596678326" stroke-width="0.8" stroke="#555"/>
<line x1="405.4" y1="391.3" x2="405.4" y2="387.3" stroke-width="0.8" stroke="#555"/>
<line x1="407.40751752722866" y1="391.9329678449885" x2="409.70182327263285" y2="388.6563596678326" stroke-width="0.8" stroke="#555"/>
<line x1="408.68892417275066" y1="393.6029294983602" x2="412.4476946558943" y2="392.2348489250575" stroke-width="0.8" stroke="#555"/>
<circle cx="405.4" cy="394.8" r="3.1" stroke-width="1.0" stroke="#444"/>
<circle cx="405.4" cy="394.8" r="1.2" stroke-width="0.7" stroke="#444"/>
<path d="M397.3,399.7 Q405.4,405.5 413.4,399.7" stroke-width="0.9"/>
<path d="M398.7,417.6 V405 Q398.7,402.8 401,402.8 H409.8 Q412.1,402.8 412.1,405 V417.6 Z"/>
<rect x="401.8" y="407.7" width="8" height="5.4"/>
<rect x="413.9" y="402.8" width="1.8" height="2.2" stroke-width="0.3" fill="#222"/>
<line x1="383" y1="397" x2="399" y2="397"/>
<line x1="417" y1="397.9" x2="421.9" y2="397.9"/>
<rect x="393.7" y="406.8" width="3.6" height="4.5"/>
<rect x="402.8" y="430" width="10.7" height="23.3"/>
<path d="M404,428 L408,423 L412,428 M405,454 h7" stroke-width="1.2" stroke="#333"/>
<rect x="393" y="437.2" width="6" height="4.5"/>
<line x1="245.9" y1="456" x2="245.9" y2="473"/>
<line x1="383.7" y1="456" x2="383.7" y2="473"/>
<line x1="409.7" y1="456" x2="409.7" y2="473"/>
<line x1="239.9" y1="400" x2="239.9" y2="487"/>
<line x1="421.4" y1="397" x2="421.4" y2="487"/>
<line x1="245.9" y1="472.2" x2="383.7" y2="472.2"/>
<line x1="383.7" y1="472.2" x2="409.7" y2="472.2"/>
<line x1="239.9" y1="486.3" x2="421.4" y2="486.3"/>
<path d="M245.90,472.20 L251.40,470.70 L251.40,473.70Z" fill="#222" stroke="none"/>
<path d="M383.70,472.20 L378.20,473.70 L378.20,470.70Z" fill="#222" stroke="none"/>
<path d="M239.90,486.30 L245.40,484.80 L245.40,487.80Z" fill="#222" stroke="none"/>
<path d="M421.40,486.30 L415.90,487.80 L415.90,484.80Z" fill="#222" stroke="none"/>
<path d="M383.70,472.20 L388.20,470.90 L388.20,473.50Z" fill="#222" stroke="none"/>
<path d="M409.70,472.20 L405.20,473.50 L405.20,470.90Z" fill="#222" stroke="none"/>
</g>
<g font-family="'Liberation Sans', sans-serif">
<text x="285.9" y="471.4" font-size="7.4" textLength="52.3" lengthAdjust="spacingAndGlyphs" fill="#2a2a2a">机脚(立柱)=3030</text>
<text x="383.7" y="472.2" font-size="7.2" textLength="24.3" lengthAdjust="spacingAndGlyphs" fill="#2a2a2a">地脚560</text>
<text x="311" y="486.1" font-size="7.4" textLength="33" lengthAdjust="spacingAndGlyphs" fill="#2a2a2a">总长=4005</text>
</g>
</svg>
</body></html>
